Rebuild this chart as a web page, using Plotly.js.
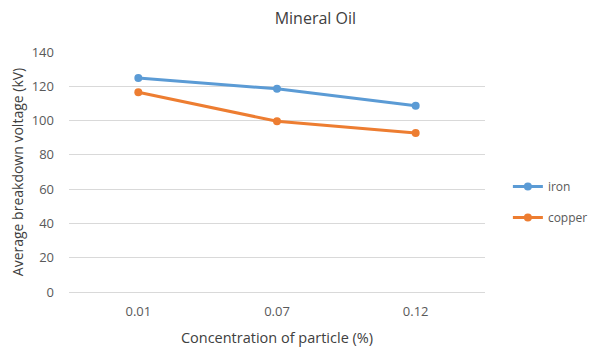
<!DOCTYPE html>
<html><head><meta charset="utf-8">
<script src="https://cdn.plot.ly/plotly-3.0.1.min.js"></script>
<style>body{margin:0;background:#fff}#c{width:595px;height:347px}</style>
</head><body><div id="c"></div>
<script>
const categories = ["0.01", "0.07", "0.12"];
const iron = [124.8, 118.5, 108.7];
const copper = [116.5, 99.6, 92.7];
const yTicks = [0, 20, 40, 60, 80, 100, 120, 140];

const font = "Open Sans, Liberation Sans, sans-serif";
const traces = [
  {x: categories, y: iron, name: "iron", legendgroup: "a", type: "scatter", mode: "lines+markers",
   line: {color: "#5B9BD5", width: 3}, marker: {color: "#5B9BD5", size: 8}},
  {x: categories, y: copper, name: "copper", legendgroup: "b", type: "scatter", mode: "lines+markers",
   line: {color: "#ED7D31", width: 3}, marker: {color: "#ED7D31", size: 8}}
];
const layout = {
  width: 595, height: 347,
  margin: {l: 69, r: 110, t: 52, b: 55, autoexpand: false},
  paper_bgcolor: "#fff", plot_bgcolor: "#fff",
  font: {family: font, color: "#595959", size: 12},
  title: {text: "Mineral Oil", font: {size: 16, color: "#404040"}, x: 0.53, xanchor: "center", y: 0.948, yanchor: "middle"},
  xaxis: {type: "category", range: [-0.5, 2.5], showgrid: false, zeroline: false, showline: false,
    ticks: "", tickfont: {size: 13, color: "#595959"}, ticklabelstandoff: 10,
    title: {text: "Concentration of particle (%)", font: {size: 14.5, color: "#404040"}, standoff: 16}},
  yaxis: {range: [0, 140], tickvals: yTicks, showgrid: true, gridcolor: "#D9D9D9", gridwidth: 1,
    zeroline: true, zerolinecolor: "#D9D9D9", zerolinewidth: 1, showline: false, ticks: "",
    tickfont: {size: 13, color: "#595959"}, ticklabelstandoff: 14,
    title: {text: "Average breakdown voltage (kV)", font: {size: 14, color: "#404040"}, standoff: 4}},
  legend: {x: 1.055, y: 0.375, xanchor: "left", yanchor: "middle", font: {size: 12, color: "#595959"},
    tracegroupgap: 12},
  showlegend: true
};
Plotly.newPlot("c", traces, layout, {displayModeBar: false, staticPlot: true});
</script></body></html>
